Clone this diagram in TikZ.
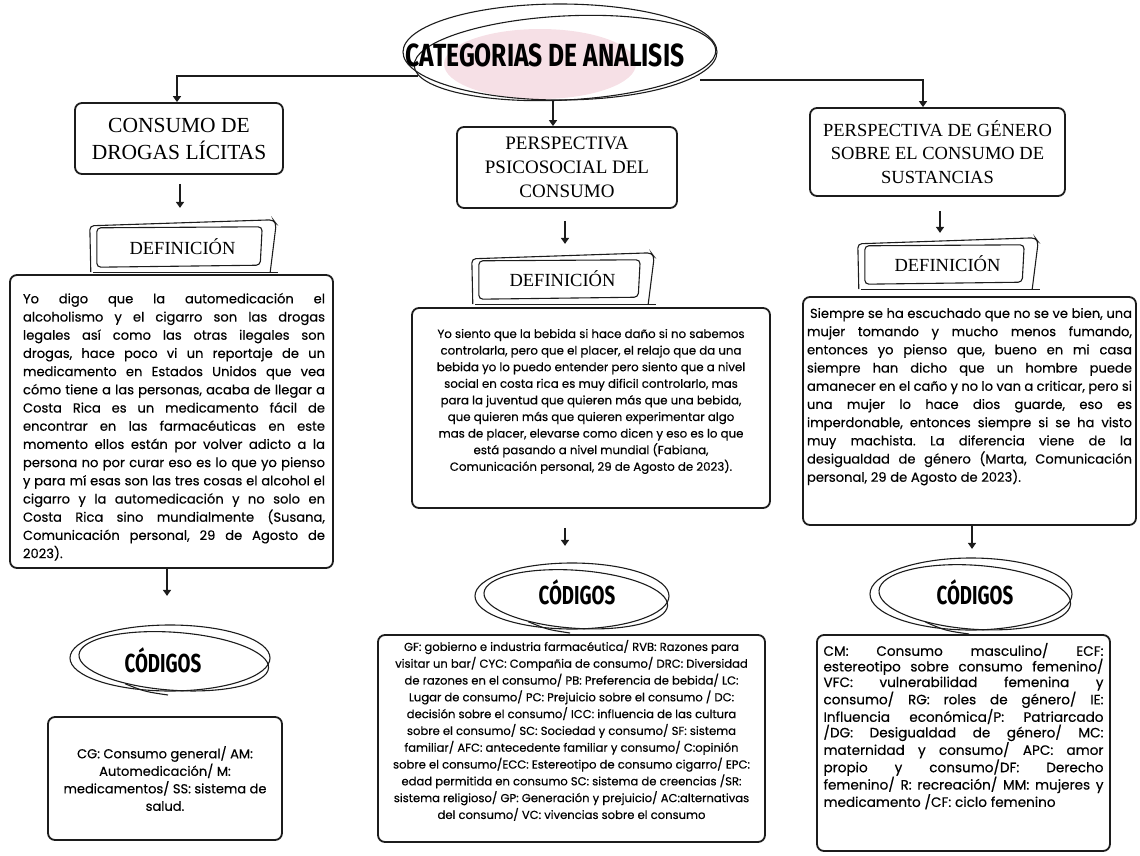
\documentclass[tikz,border=0pt]{standalone}
\usepackage{fontspec}
\setmainfont{Liberation Serif}
\newfontfamily\bodyf[FakeBold=0.4]{Poppins}
\newfontfamily\handf[FakeStretch=0.72]{Fira Sans}
\newfontfamily\titf[FakeStretch=0.77]{Fira Sans}
\usetikzlibrary{arrows.meta,shapes.geometric,calc}
\definecolor{pinkfill}{RGB}{246,224,230}
\definecolor{ink}{RGB}{28,28,28}
\frenchspacing
\newcommand\jus{\spaceskip=0.28em plus 2em minus 0.12em\relax\tolerance=10000\parindent=0pt\hbadness=10000}
\newcommand\skbox[1]{%
  \draw[sk] ($(#1.north west)+(7,8)$) -- ($(#1.north east)+(-13,7)$) -- ($(#1.south east)+(-15,-8)$) -- ($(#1.south west)+(7,-6)$) -- cycle;
  \draw[sk] ($(#1.south west)+(1,-1)$) -- ($(#1.north west)+(0,6)$) -- ($(#1.north east)+(-2,0)$) -- ($(#1.north east)+(1,4)$) -- ($(#1.south east)+(-5,-1)$);
  \draw[sk] ($(#1.south west)+(3,-1)$) -- ($(#1.south east)+(3,-1)$);}
\newcommand\skell[5]{% node, dx, dy, rx, ry
  \begin{scope}[shift={(#1)}]
    \draw[sk] (#2,#3) ellipse [x radius=#4pt, y radius=#5pt];
    \draw[sk, rotate around={-4:(#2,#3)}] ($(#2,#3)+(4,3)$) ellipse [x radius=#4pt-5pt, y radius=#5pt-4pt];
    \draw[sk] ({#2-#4*0.45},{#3+#5*0.78}) .. controls ({#2-#4*0.25},{#3+#5*1.02}) .. ({#2-#4*0.02},{#3+#5+4});
  \end{scope}}
\tikzset{
  rbox/.style={draw=ink, line width=1.8pt, rounded corners=7pt, inner sep=0pt},
  head/.style={align=center},
  arr/.style={draw=ink, line width=1.8pt, -{Triangle[length=6pt,width=8pt]}},
  sk/.style={draw=ink, line width=1.1pt, rounded corners=4pt},
  defl/.style={font=\fontsize{18.5}{22}\selectfont, inner sep=0pt},
  codl/.style={font=\handf\bfseries\fontsize{26}{30}\selectfont, inner sep=0pt},
  titl/.style={font=\titf\bfseries\fontsize{32}{36}\selectfont, inner sep=0pt}
}
\begin{document}
\begin{tikzpicture}[x=1pt,y=-1pt]
\useasboundingbox (0,0) rectangle (1140,856);
% title
\fill[pinkfill] (540,64) ellipse [x radius=96pt, y radius=35pt];
\draw[sk] (560,52) ellipse [x radius=157pt, y radius=48pt];
\draw[sk, rotate around={3:(565,58)}] (565,58) ellipse [x radius=151pt, y radius=42pt];
\node[titl] (title) at (545,55) {CATEGORIAS DE ANALISIS};
\coordinate (tl) at (418,76);
\coordinate (tr) at (700,80);
\coordinate (tb) at (553,100);

% category boxes
\node[rbox, head, font=\fontsize{21.5}{27}\selectfont, minimum width=208pt, minimum height=71pt] (c1) at (179,138.5) {\raisebox{4pt}{\parbox{200pt}{\centering CONSUMO DE\\DROGAS LÍCITAS}}};
\node[rbox, head, font=\fontsize{19}{24}\selectfont, minimum width=220pt, minimum height=81pt] (c2) at (567,167.5) {\raisebox{5pt}{\parbox{210pt}{\centering PERSPECTIVA\\PSICOSOCIAL DEL\\CONSUMO}}};
\node[rbox, head, font=\fontsize{18.5}{23.5}\selectfont, minimum width=255pt, minimum height=88pt] (c3) at (937.5,152) {\raisebox{2pt}{\parbox{245pt}{\centering PERSPECTIVA DE GÉNERO\\SOBRE EL CONSUMO DE\\SUSTANCIAS}}};

\draw[arr] (tl) -| ($(c1.north)+(-2,0)$);
\draw[arr] (tr) -| ($(c3.north)+(-14.5,0)$);
\draw[arr] (tb) -- (tb |- c2.north);

% definicion labels
\node[defl, minimum width=185pt, minimum height=53pt] (d1) at (182.5,246.5) {DEFINICIÓN};
\node[defl, minimum width=181pt, minimum height=52pt] (d2) at (562.5,279) {DEFINICIÓN};
\node[defl, minimum width=179pt, minimum height=52pt] (d3) at (947.5,264) {DEFINICIÓN};
\skbox{d1}\skbox{d2}\skbox{d3}

\draw[arr] ($(c1.south)+(1,9)$) -- ++(0,24);
\draw[arr] ($(c2.south)+(-2,12)$) -- ++(0,23);
\draw[arr] ($(c3.south)+(2.5,14)$) -- ++(0,22);

% text boxes
\node[rbox, inner xsep=8pt] (t1) at (171.5,421.5) {\hspace*{5pt}\parbox[c][293pt][t]{302pt}{\bodyf\fontsize{13.1}{18.2}\selectfont\jus\vspace*{18pt}%
Yo digo que la automedicación el\linebreak
alcoholismo y el cigarro son las drogas\linebreak
legales así como las otras ilegales son\linebreak
drogas, hace poco vi un reportaje de un\linebreak
medicamento en Estados Unidos que vea\linebreak
cómo tiene a las personas, acaba de llegar a\linebreak
Costa Rica es un medicamento fácil de\linebreak
encontrar en las farmacéuticas en este\linebreak
momento ellos están por volver adicto a la\linebreak
persona no por curar eso es lo que yo pienso\linebreak
y para mí esas son las tres cosas el alcohol el\linebreak
cigarro y la automedicación y no solo en\linebreak
Costa Rica sino mundialmente (Susana,\linebreak
Comunicación personal, 29 de Agosto de\linebreak
2023).}};

\node[rbox, inner xsep=16pt] (t2) at (591,408) {\parbox[c][200pt][t]{326pt}{\bodyf\fontsize{11.8}{16.6}\selectfont\centering\vspace*{21pt}%
Yo siento que la bebida si hace daño si no sabemos\\
controlarla, pero que el placer, el relajo que da una\\
bebida yo lo puedo entender pero siento que a nivel\\
social en costa rica es muy dificil controlarlo, mas\\
para la juventud que quieren más que una bebida,\\
que quieren más que quieren experimentar algo\\
mas de placer, elevarse como dicen y eso es lo que\\
está pasando a nivel mundial (Fabiana,\\
Comunicación personal, 29 de Agosto de 2023).\par}};

\node[rbox, inner xsep=4pt] (t3) at (969.5,411) {\parbox[c][228pt][t]{325pt}{\bodyf\fontsize{13.1}{18.2}\selectfont\jus\vspace*{11pt}%
\hspace*{3pt}Siempre se ha escuchado que no se ve bien, una\linebreak
mujer tomando y mucho menos fumando,\linebreak
entonces yo pienso que, bueno en mi casa\linebreak
siempre han dicho que un hombre puede\linebreak
amanecer en el caño y no lo van a criticar, pero si\linebreak
una mujer lo hace dios guarde, eso es\linebreak
imperdonable, entonces siempre si se ha visto\linebreak
muy machista. La diferencia viene de la\linebreak
desigualdad de género (Marta, Comunicación\linebreak
personal, 29 de Agosto de 2023).}};

% codigos labels
\node[codl] (e1) at (163,660) {CÓDIGOS};
\node[codl] (e2) at (577,592) {CÓDIGOS};
\node[codl] (e3) at (975,592) {CÓDIGOS};
\skell{e1}{7}{-2}{100}{33}
\skell{e2}{-5}{4}{97}{33}
\skell{e3}{-4}{2}{101}{36}

\draw[arr] ($(t1.south)+(-4.5,0)$) -- ++(0,27);
\draw[arr] ($(t2.south)+(-26,19)$) -- ++(0,18);
\draw[arr] ($(t3.south)+(2.5,0)$) -- ++(0,23);

% code boxes
\node[rbox, align=center, font=\bodyf\fontsize{13}{17.5}\selectfont, minimum width=234pt, minimum height=123pt] (k1) at (165,778.5) {CG: Consumo general/ AM:\\Automedicación/ M:\\medicamentos/ SS: sistema de\\salud.};

\node[rbox, inner xsep=4pt] (k2) at (571.5,738.5) {\parbox[c][207pt][t]{379pt}{\bodyf\fontsize{11.6}{16.8}\selectfont\centering\vspace*{5pt}%
GF: gobierno e industria farmacéutica/ RVB: Razones para\\
visitar un bar/ CYC: Compañia de consumo/ DRC: Diversidad\\
de razones en el consumo/ PB: Preferencia de bebida/ LC:\\
Lugar de consumo/ PC: Prejuicio sobre el consumo / DC:\\
decisión sobre el consumo/ ICC: influencia de las cultura\\
sobre el consumo/ SC: Sociedad y consumo/ SF: sistema\\
familiar/ AFC: antecedente familiar y consumo/ C:opinión\\
sobre el consumo/ECC: Estereotipo de consumo cigarro/ EPC:\\
edad permitida en consumo SC: sistema de creencias /SR:\\
sistema religioso/ GP: Generación y prejuicio/ AC:alternativas\\
del consumo/ VC: vivencias sobre el consumo\par}};

\node[rbox, inner xsep=6.5pt] (k3) at (963.5,743) {\parbox[c][216pt][t]{280pt}{\bodyf\fontsize{13.6}{15.6}\selectfont\jus\vspace*{8pt}%
CM: Consumo masculino/ ECF:\linebreak
estereotipo sobre consumo femenino/\linebreak
VFC: vulnerabilidad femenina y\linebreak
consumo/ RG: roles de género/ IE:\linebreak
Influencia económica/P: Patriarcado\linebreak
/DG: Desigualdad de género/ MC:\linebreak
maternidad y consumo/ APC: amor\linebreak
propio y consumo/DF: Derecho\linebreak
femenino/ R: recreación/ MM: mujeres y\linebreak
medicamento /CF: ciclo femenino}};
\end{tikzpicture}
\end{document}
